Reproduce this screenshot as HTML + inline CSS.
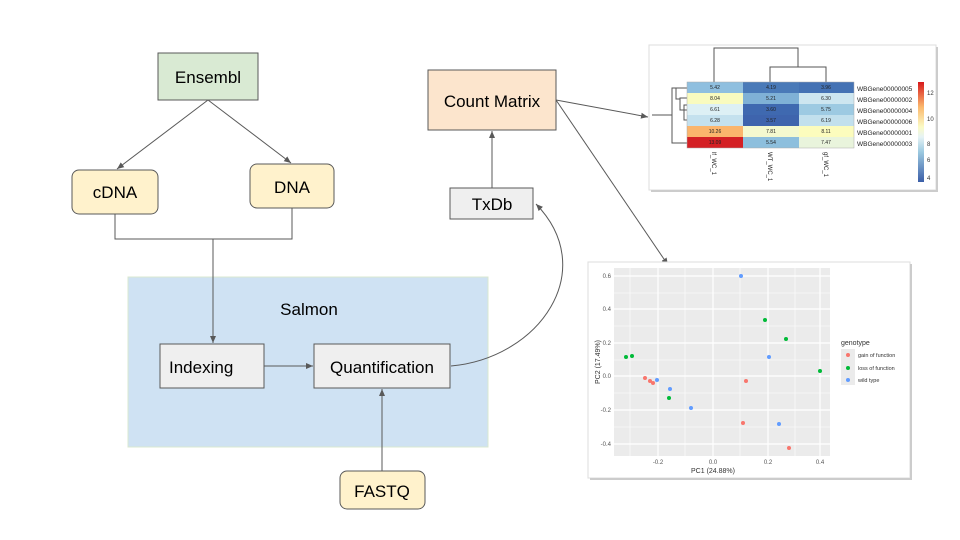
<!DOCTYPE html>
<html><head><meta charset="utf-8"><style>
body{margin:0;background:#fff}
svg{display:block;font-family:"Liberation Sans",sans-serif}
</style></head><body>
<svg width="960" height="540" viewBox="0 0 960 540" xmlns="http://www.w3.org/2000/svg">
<defs>
<marker id="a" markerWidth="8" markerHeight="8" refX="7" refY="4" orient="auto" markerUnits="userSpaceOnUse"><path d="M0,1 L7,4 L0,7 Z" fill="#595959"/></marker>
</defs>
<rect width="960" height="540" fill="#fff"/>
<!-- Salmon -->
<rect x="128" y="277" width="360" height="170" fill="#cfe2f3" stroke="#d9e8d0"/>
<text x="309" y="315" font-size="17" text-anchor="middle" fill="#000">Salmon</text>
<g stroke="#595959" stroke-width="1" fill="none">
<line x1="208" y1="100" x2="117" y2="169" marker-end="url(#a)"/>
<line x1="208" y1="100" x2="291" y2="163" marker-end="url(#a)"/>
<polyline points="115,214 115,239 292,239 292,208"/>
<line x1="213" y1="239" x2="213" y2="343" marker-end="url(#a)"/>
<line x1="264" y1="366" x2="313" y2="366" marker-end="url(#a)"/>
<line x1="382" y1="471" x2="382" y2="389" marker-end="url(#a)"/>
<line x1="492" y1="188" x2="492" y2="131" marker-end="url(#a)"/>
<path d="M451,366 C540,358 600,270 536,204" marker-end="url(#a)"/>
<line x1="556" y1="100" x2="648" y2="117" marker-end="url(#a)"/>
<line x1="556" y1="100" x2="668" y2="265" marker-end="url(#a)"/>
</g>
<rect x="158" y="53" width="100" height="47" fill="#d9ead3" stroke="#595959"/>
<text x="208" y="83" font-size="17" text-anchor="middle">Ensembl</text>
<rect x="72" y="170" width="86" height="44" rx="7" fill="#fff2cc" stroke="#595959"/>
<text x="115" y="198" font-size="17" text-anchor="middle">cDNA</text>
<rect x="250" y="164" width="84" height="44" rx="7" fill="#fff2cc" stroke="#595959"/>
<text x="292" y="193" font-size="17" text-anchor="middle">DNA</text>
<rect x="160" y="344" width="104" height="44" fill="#efefef" stroke="#595959"/>
<text x="169" y="373" font-size="17">Indexing</text>
<rect x="314" y="344" width="136" height="44" fill="#efefef" stroke="#595959"/>
<text x="382" y="373" font-size="17" text-anchor="middle">Quantification</text>
<rect x="340" y="471" width="85" height="38" rx="7" fill="#fff2cc" stroke="#595959"/>
<text x="382" y="497" font-size="17" text-anchor="middle">FASTQ</text>
<rect x="428" y="70" width="128" height="60" fill="#fce5cd" stroke="#595959"/>
<text x="492" y="107" font-size="17" text-anchor="middle">Count Matrix</text>
<rect x="450" y="188" width="83" height="31" fill="#efefef" stroke="#595959"/>
<text x="492" y="210" font-size="17" text-anchor="middle">TxDb</text>

<!-- Heatmap card -->
<rect x="649" y="45" width="287" height="145" fill="#fff" stroke="#ddd"/>
<rect x="936" y="47" width="2" height="145" fill="#ccc"/>
<rect x="651" y="190" width="287" height="2" fill="#ccc"/>
<g stroke="#555" fill="none" stroke-width="1">
<polyline points="714,82 714,48 798,48 798,67"/>
<polyline points="770,82 770,67 826,67 826,82"/>
<polyline points="687,88 672,88 672,143 687,143"/>
<polyline points="687,98 680,98 680,110 687,110"/>
<polyline points="687,105 684,105 684,120 687,120"/>
<polyline points="672,115 652,115"/>
<polyline points="676,88 676,99 680,99"/>
</g>
<g font-size="5" text-anchor="middle" fill="#222">
<rect x="687" y="82" width="56" height="11" fill="#8fbfdf"/><text x="715" y="89">5.42</text>
<rect x="743" y="82" width="56" height="11" fill="#4a7ab8"/><text x="771" y="89">4.19</text>
<rect x="799" y="82" width="55" height="11" fill="#4472b4"/><text x="826" y="89">3.96</text>
<rect x="687" y="93" width="56" height="11" fill="#f9fbbf"/><text x="715" y="100">8.04</text>
<rect x="743" y="93" width="56" height="11" fill="#7fb1d6"/><text x="771" y="100">5.21</text>
<rect x="799" y="93" width="55" height="11" fill="#cde6f0"/><text x="826" y="100">6.30</text>
<rect x="687" y="104" width="56" height="11" fill="#ddf0f5"/><text x="715" y="111">6.61</text>
<rect x="743" y="104" width="56" height="11" fill="#3f69b0"/><text x="771" y="111">3.60</text>
<rect x="799" y="104" width="55" height="11" fill="#9dcae2"/><text x="826" y="111">5.75</text>
<rect x="687" y="115" width="56" height="11" fill="#c4e1ee"/><text x="715" y="122">6.28</text>
<rect x="743" y="115" width="56" height="11" fill="#3e64ad"/><text x="771" y="122">3.57</text>
<rect x="799" y="115" width="55" height="11" fill="#c2e0ed"/><text x="826" y="122">6.19</text>
<rect x="687" y="126" width="56" height="11" fill="#fbb56c"/><text x="715" y="133">10.26</text>
<rect x="743" y="126" width="56" height="11" fill="#f4f9cf"/><text x="771" y="133">7.81</text>
<rect x="799" y="126" width="55" height="11" fill="#fcfcbd"/><text x="826" y="133">8.11</text>
<rect x="687" y="137" width="56" height="11" fill="#d42024"/><text x="715" y="144">13.09</text>
<rect x="743" y="137" width="56" height="11" fill="#8dbfdd"/><text x="771" y="144">5.54</text>
<rect x="799" y="137" width="55" height="11" fill="#e9f4dc"/><text x="826" y="144">7.47</text>
</g>
<g stroke="#aaa" fill="none" stroke-width="0.5"><rect x="687" y="82" width="167" height="66"/></g>
<g font-size="6.5" fill="#222">
<text x="857" y="91">WBGene00000005</text><text x="857" y="102">WBGene00000002</text>
<text x="857" y="113">WBGene00000004</text><text x="857" y="124">WBGene00000006</text>
<text x="857" y="135">WBGene00000001</text><text x="857" y="146">WBGene00000003</text>
</g>
<g font-size="6" fill="#222">
<text transform="translate(712,152) rotate(90)">lf_WC_1</text>
<text transform="translate(768,152) rotate(90)">WT_WC_1</text>
<text transform="translate(824,152) rotate(90)">gf_WC_1</text>
</g>
<defs><linearGradient id="cb" x1="0" y1="1" x2="0" y2="0">
<stop offset="0" stop-color="#3b5ea8"/><stop offset="0.3" stop-color="#9cc9e0"/><stop offset="0.45" stop-color="#e6f3f5"/><stop offset="0.55" stop-color="#fbfbc5"/><stop offset="0.75" stop-color="#fbb86d"/><stop offset="1" stop-color="#d7191c"/></linearGradient></defs>
<rect x="918" y="82" width="6" height="100" fill="url(#cb)"/>
<g font-size="6" fill="#333"><text x="927" y="95">12</text><text x="927" y="121">10</text><text x="927" y="146">8</text><text x="927" y="162">6</text><text x="927" y="180">4</text></g>

<!-- PCA card -->
<rect x="588" y="262" width="322" height="216" fill="#fff" stroke="#ddd"/>
<rect x="910" y="264" width="2" height="216" fill="#ccc"/>
<rect x="590" y="478" width="322" height="2" fill="#ccc"/>
<rect x="614" y="268" width="216" height="188" fill="#ebebeb"/>
<g stroke="#fff" stroke-width="0.6">
<line x1="630" y1="268" x2="630" y2="456"/><line x1="685" y1="268" x2="685" y2="456"/><line x1="740" y1="268" x2="740" y2="456"/><line x1="795" y1="268" x2="795" y2="456"/>
<line x1="614" y1="293" x2="830" y2="293"/><line x1="614" y1="326" x2="830" y2="326"/><line x1="614" y1="360" x2="830" y2="360"/><line x1="614" y1="393" x2="830" y2="393"/><line x1="614" y1="427" x2="830" y2="427"/>
</g>
<g stroke="#fff" stroke-width="1.2">
<line x1="658" y1="268" x2="658" y2="456"/><line x1="713" y1="268" x2="713" y2="456"/><line x1="768" y1="268" x2="768" y2="456"/><line x1="820" y1="268" x2="820" y2="456"/>
<line x1="614" y1="276" x2="830" y2="276"/><line x1="614" y1="309" x2="830" y2="309"/><line x1="614" y1="343" x2="830" y2="343"/><line x1="614" y1="376" x2="830" y2="376"/><line x1="614" y1="410" x2="830" y2="410"/><line x1="614" y1="444" x2="830" y2="444"/>
</g>
<g font-size="6" fill="#555" text-anchor="end">
<text x="611" y="278">0.6</text><text x="611" y="311">0.4</text><text x="611" y="345">0.2</text><text x="611" y="378">0.0</text><text x="611" y="412">-0.2</text><text x="611" y="446">-0.4</text>
</g>
<g font-size="6" fill="#555" text-anchor="middle">
<text x="658" y="464">-0.2</text><text x="713" y="464">0.0</text><text x="768" y="464">0.2</text><text x="820" y="464">0.4</text>
</g>
<text x="713" y="473" font-size="7" text-anchor="middle" fill="#333">PC1 (24.88%)</text>
<text transform="translate(600,362) rotate(-90)" font-size="7" text-anchor="middle" fill="#333">PC2 (17.49%)</text>
<g fill="#f8766d"><circle cx="645" cy="378" r="2"/><circle cx="650" cy="381" r="2"/><circle cx="653" cy="383" r="2"/><circle cx="746" cy="381" r="2"/><circle cx="743" cy="423" r="2"/><circle cx="789" cy="448" r="2"/></g>
<g fill="#00ba38"><circle cx="626" cy="357" r="2"/><circle cx="632" cy="356" r="2"/><circle cx="669" cy="398" r="2"/><circle cx="765" cy="320" r="2"/><circle cx="786" cy="339" r="2"/><circle cx="820" cy="371" r="2"/></g>
<g fill="#619cff"><circle cx="741" cy="276" r="2"/><circle cx="769" cy="357" r="2"/><circle cx="657" cy="380" r="2"/><circle cx="670" cy="389" r="2"/><circle cx="691" cy="408" r="2"/><circle cx="779" cy="424" r="2"/></g>
<text x="841" y="345" font-size="7" fill="#333">genotype</text>
<rect x="841" y="349" width="14" height="36" fill="#ebebeb"/>
<circle cx="848" cy="355" r="2" fill="#f8766d"/><circle cx="848" cy="368" r="2" fill="#00ba38"/><circle cx="848" cy="380" r="2" fill="#619cff"/>
<g font-size="5.5" fill="#333"><text x="858" y="357">gain of function</text><text x="858" y="370">loss of function</text><text x="858" y="382">wild type</text></g>
</svg>
</body></html>
